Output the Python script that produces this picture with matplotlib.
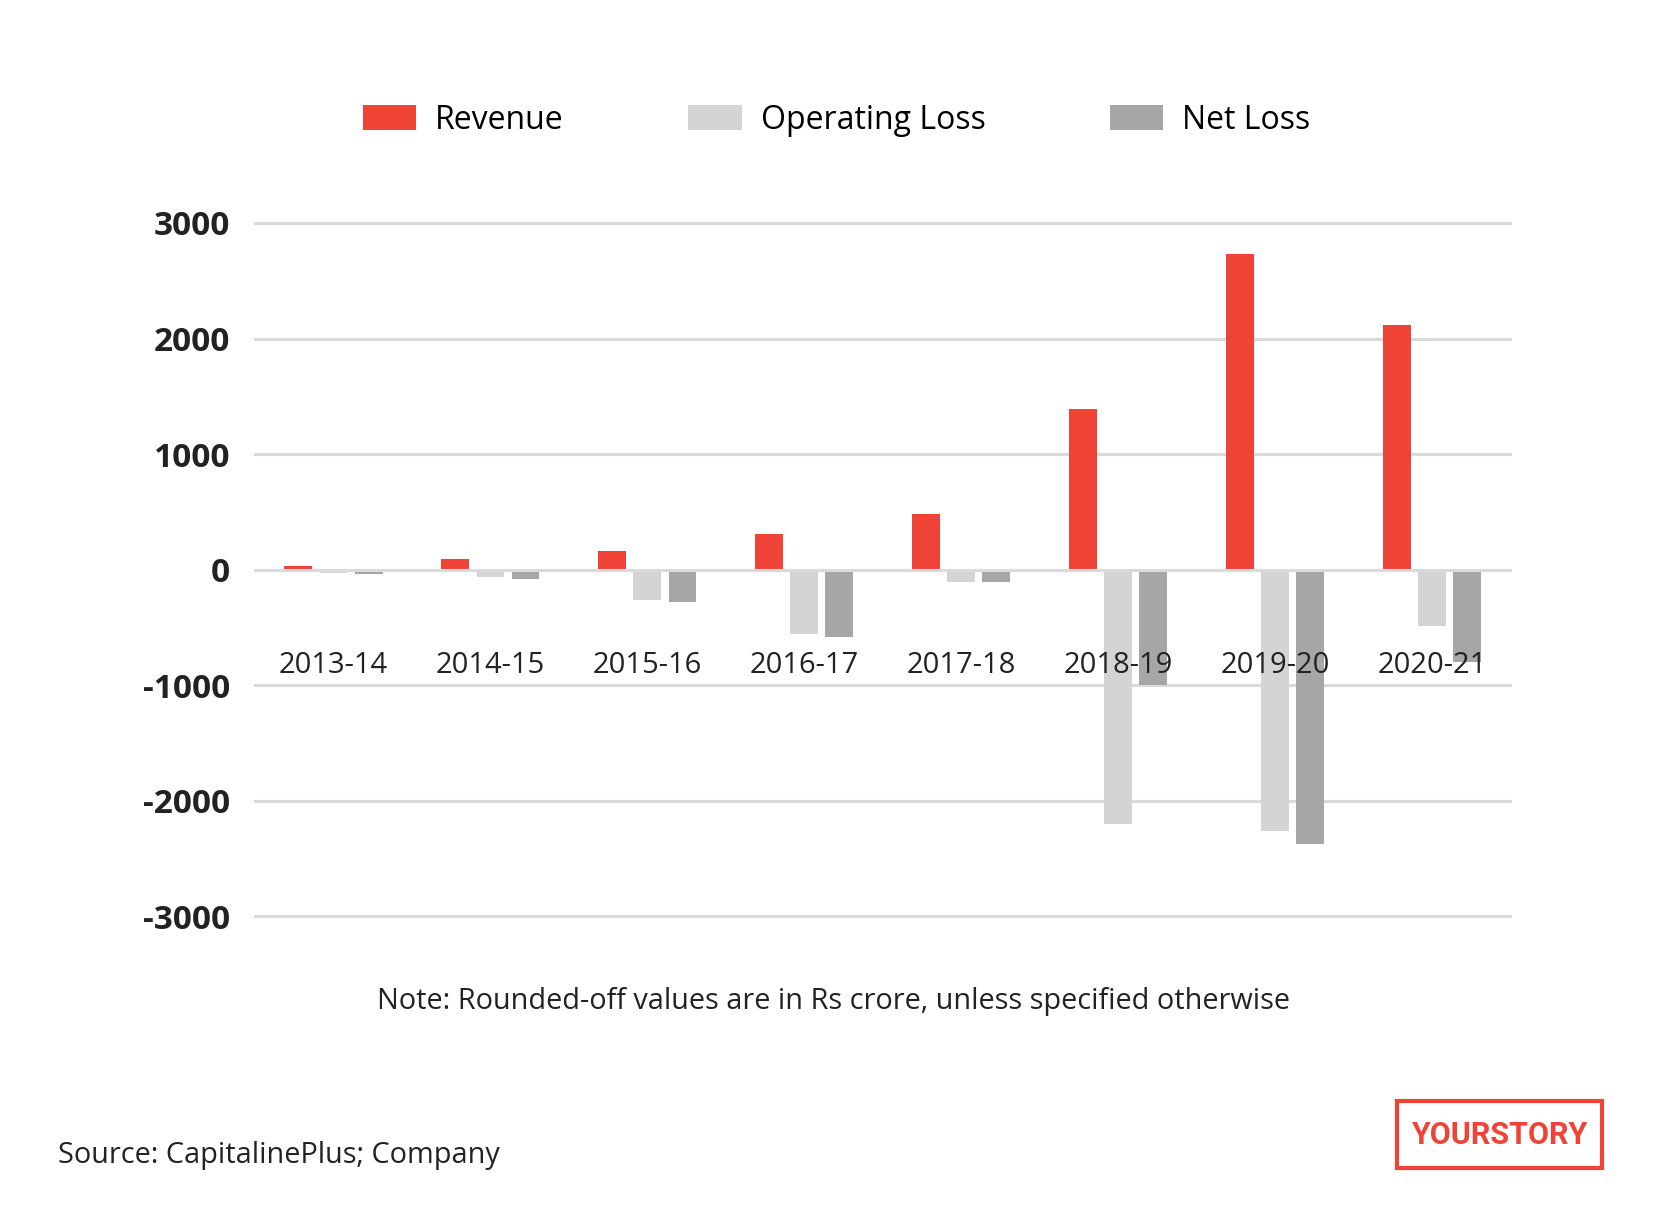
import numpy as np
import matplotlib.pyplot as plt
from matplotlib.patches import Rectangle

years = ['2013-14', '2014-15', '2015-16', '2016-17', '2017-18', '2018-19', '2019-20', '2020-21']
revenue = [30, 93, 156, 309, 484, 1393, 2733, 2113]
operating_loss = [-30, -69, -262, -556, -110, -2206, -2262, -490]
net_loss = [-40, -80, -285, -588, -107, -1003, -2380, -800]
yticks = [3000, 2000, 1000, 0, -1000, -2000, -3000]

red = '#F04338'
light = '#D4D4D4'
dark = '#A6A6A6'
grid = '#DADADA'
font = 'Open Sans'

plt.rcParams['font.family'] = [font, 'DejaVu Sans']

fig = plt.figure(figsize=(16.67, 12.08), dpi=100)
ax = fig.add_axes([0.153, 0.2417, 0.753, 0.5737])

x = np.arange(len(years))
w = 0.177
off = 0.224
ax.bar(x - off, revenue, w, color=red, label='Revenue', zorder=2)
ax.bar(x, operating_loss, w, color=light, label='Operating Loss', zorder=2)
ax.bar(x + off, net_loss, w, color=dark, label='Net Loss', zorder=2)

ax.set_xlim(-0.5, 7.5)
ax.set_ylim(-3000, 3000)
ax.set_yticks(yticks)
ax.set_yticklabels([str(v) for v in yticks], fontsize=24, fontweight='bold', color='#222222')
ax.tick_params(axis='y', length=0, pad=18)
ax.set_xticks([])
ax.grid(axis='y', color=grid, linewidth=2.2, zorder=0)
for l in ax.get_ygridlines():
    l.set_clip_on(False)
ax.set_axisbelow(True)
ax.axhline(0, color=grid, linewidth=2.2, zorder=3)
for s in ax.spines.values():
    s.set_visible(False)

for i, y in enumerate(years):
    ax.text(i, -835, y, ha='center', va='center', fontsize=21, color='#222222', zorder=4)

fig.legend(loc='center', bbox_to_anchor=(0.502, 0.9006), ncol=3, frameon=False,
           fontsize=23, handlelength=1.66, handleheight=0.85, handletextpad=0.6,
           columnspacing=3.9)

fig.text(0.5, 1 - 1002 / 1208, 'Note: Rounded-off values are in Rs crore, unless specified otherwise',
         ha='center', va='center', fontsize=20.8, color='#222222')
fig.text(58 / 1667, 1 - 1156 / 1208, 'Source: CapitalinePlus; Company',
         ha='left', va='center', fontsize=20.8, color='#222222')

# logo
fig.patches.append(Rectangle((1397 / 1667, 1 - 1168 / 1208), 205 / 1667, 67 / 1208,
                             transform=fig.transFigure, fill=False, edgecolor=red, linewidth=3))
fig.text(1499.5 / 1667, 1 - 1135 / 1208, 'YOURSTORY', ha='center', va='center',
         fontsize=22, color=red, fontweight='bold', family='Roboto')

fig.savefig('out.png', dpi=100, facecolor='white')
